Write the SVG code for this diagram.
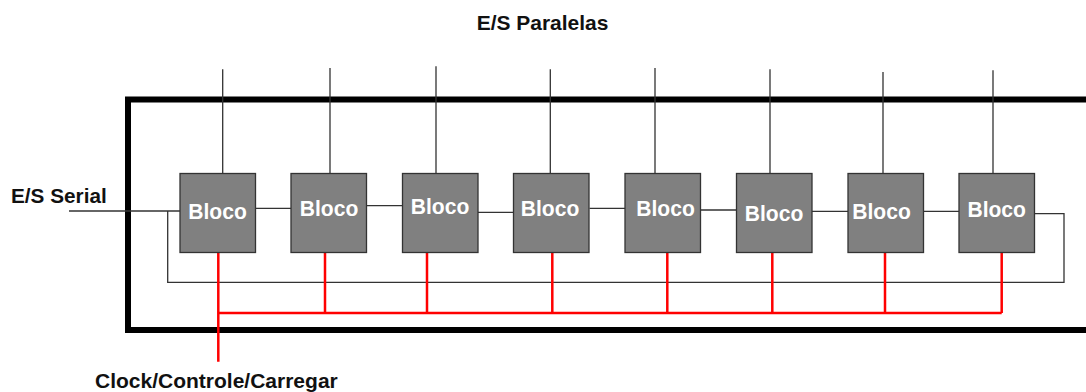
<svg xmlns="http://www.w3.org/2000/svg" width="1086" height="392" viewBox="0 0 1086 392">
  <style>
    .lbl { font-family: "Liberation Sans", Arial, sans-serif; font-weight: bold; font-size: 21px; fill: #111; }
    .blk rect { fill: #808080; stroke: #333; stroke-width: 1.3; }
    .blk text { font-family: "Liberation Sans", Arial, sans-serif; font-weight: bold; font-size: 21.5px; fill: #fff; text-anchor: middle; }
    .wire { fill: none; stroke: #333; stroke-width: 1.3; }
    .ctl { fill: none; stroke: #ff0000; stroke-width: 2.5; }
    .frame { fill: none; stroke: #000; stroke-width: 6; }
  </style>

  <rect width="1086" height="392" fill="#fff"/>

  <!-- chip boundary, open on the right -->
  <path class="frame" d="M1092 99.5 H128 V330 H1092"/>

  <!-- connectors -->
  <g id="connectors">
    <!-- parallel I/O lines -->
    <path class="wire" d="M222.7 69.3 V173.3 M330 68 V173.3 M436 66.3 V173.3 M550.3 69.3 V173.3 M655 68 V173.3 M770 69.3 V173.3 M883 72 V173.3 M993 70.3 V173.3"/>
    <!-- serial input -->
    <path class="wire" d="M69 211 H180"/>
    <!-- serial chain between blocks -->
    <path class="wire" d="M255.5 208.3 H291 M366.5 205.7 H402.5 M478 212.3 H513.5 M589.5 208.3 H625 M701 210 H736.5 M812 211.3 H848 M923.5 211.3 H959"/>
    <!-- feedback loop from last block back to the input -->
    <path class="wire" d="M1035 213.7 H1064 V282.3 H167.7 V211"/>
    <!-- clock / control / load bus -->
    <path class="ctl" d="M218.3 253 V361.7 M218.3 313 H1001.7 M325 253 V313 M427 253 V313 M552.3 253 V313 M667.3 253 V313 M772.3 253 V313 M885 253 V313 M1001.7 253 V313"/>
  </g>

  <!-- blocks -->
  <g id="bloco1" class="blk"><rect x="180" y="173.5" width="75.5" height="79"/><text x="217.5" y="219" textLength="58.5" lengthAdjust="spacingAndGlyphs">Bloco</text></g>
  <g id="bloco2" class="blk"><rect x="291" y="173.5" width="75.5" height="79"/><text x="329" y="216" textLength="58.5" lengthAdjust="spacingAndGlyphs">Bloco</text></g>
  <g id="bloco3" class="blk"><rect x="402.5" y="173.5" width="75.5" height="79"/><text x="440" y="214.3" textLength="58.5" lengthAdjust="spacingAndGlyphs">Bloco</text></g>
  <g id="bloco4" class="blk"><rect x="513.5" y="173.5" width="75.5" height="79"/><text x="550" y="215.7" textLength="58.5" lengthAdjust="spacingAndGlyphs">Bloco</text></g>
  <g id="bloco5" class="blk"><rect x="625" y="173.5" width="75.5" height="79"/><text x="665.5" y="216" textLength="58.5" lengthAdjust="spacingAndGlyphs">Bloco</text></g>
  <g id="bloco6" class="blk"><rect x="736.5" y="173.5" width="75.5" height="79"/><text x="774" y="220.7" textLength="58.5" lengthAdjust="spacingAndGlyphs">Bloco</text></g>
  <g id="bloco7" class="blk"><rect x="848" y="173.5" width="75.5" height="79"/><text x="881.5" y="219.3" textLength="58.5" lengthAdjust="spacingAndGlyphs">Bloco</text></g>
  <g id="bloco8" class="blk"><rect x="959" y="173.5" width="75.5" height="79"/><text x="996.7" y="217.3" textLength="58.5" lengthAdjust="spacingAndGlyphs">Bloco</text></g>

  <!-- labels -->
  <text class="lbl" x="476.7" y="30" textLength="131.7" lengthAdjust="spacingAndGlyphs">E/S Paralelas</text>
  <text class="lbl" x="11" y="202.7" textLength="95.7" lengthAdjust="spacingAndGlyphs">E/S Serial</text>
  <text class="lbl" x="95" y="388.3" font-size="20.5">Clock/Controle/Carregar</text>
</svg>
